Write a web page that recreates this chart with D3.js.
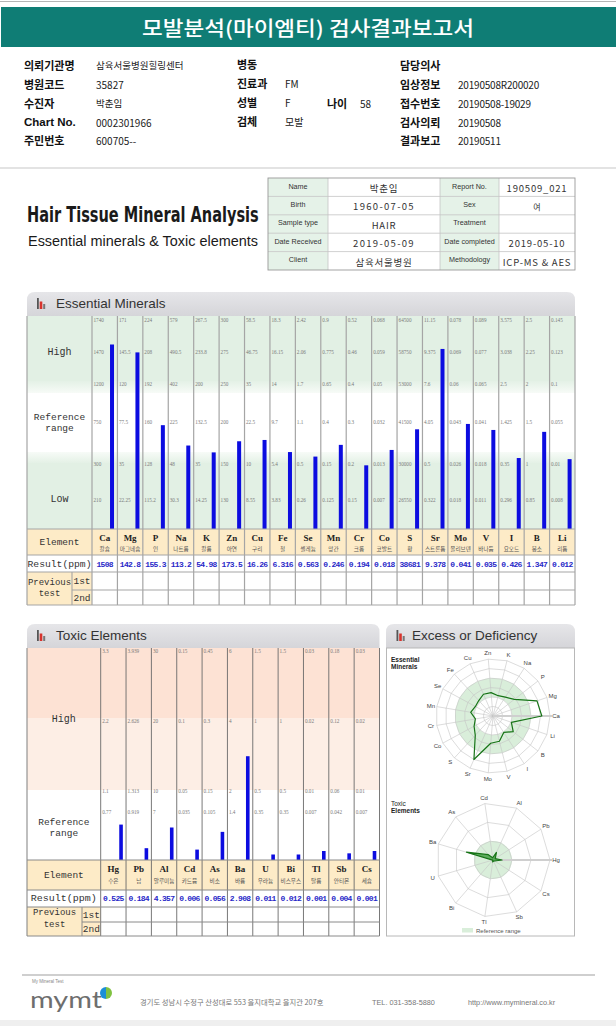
<!DOCTYPE html>
<html><head><meta charset="utf-8">
<script src="https://cdn.jsdelivr.net/npm/d3@7"></script>
<style>body{margin:0;background:#fff}svg{display:block}</style>
</head><body>
<svg id="c" width="616" height="1026"></svg>
<script>
// ---------------- DATA ----------------
const reportTitle = "모발분석(마이엠티) 검사결과보고서";
const hdrCol1Labels = ["의뢰기관명","병원코드","수진자","Chart No.","주민번호"];
const hdrCol1Values = ["삼육서울병원힐링센터","35827","박춘임","0002301966","600705--"];
const hdrCol2Labels = ["병동","진료과","성별","검체",""];
const hdrCol2Values = ["","FM","F","모발",""];
const hdrCol3Labels = ["담당의사","임상정보","접수번호","검사의뢰","결과보고"];
const hdrCol3Values = ["","20190508R200020","20190508-19029","20190508","20190511"];
const ageLabel = "나이", ageValue = "58";

const infoLabels1 = ["Name","Birth","Sample type","Date Received","Client"];
const infoValues1 = ["박춘임","1960-07-05","HAIR","2019-05-09","삼육서울병원"];
const infoLabels2 = ["Report No.","Sex","Treatment","Date completed","Methodology"];
const infoValues2 = ["190509_021","여","","2019-05-10","ICP-MS & AES"];

const essSymbols = ["Ca","Mg","P","Na","K","Zn","Cu","Fe","Se","Mn","Cr","Co","S","Sr","Mo","V","I","B","Li"];
const essKorean = ["칼슘","마그네슘","인","나트륨","칼륨","아연","구리","철","셀레늄","망간","크롬","코발트","황","스트론튬","몰리브덴","바나듐","요오드","붕소","리튬"];
const essResults = [1508,142.8,155.3,113.2,54.98,173.5,16.26,6.316,0.563,0.246,0.194,0.018,38681,9.378,0.041,0.035,0.426,1.347,0.012];
const essTop     = [1740,171,224,579,267.5,300,58.5,18.3,2.42,0.9,0.52,0.068,64500,11.15,0.078,0.089,3.575,2.5,0.145];
const essHighMid = [1470,145.5,208,490.5,233.8,275,46.75,16.15,2.06,0.775,0.46,0.059,58750,9.375,0.069,0.077,3.038,2.25,0.123];
const essRefHigh = [1200,120,192,402,200,250,35,14,1.7,0.65,0.4,0.05,53000,7.6,0.06,0.065,2.5,2,0.1];
const essRefMid  = [750,77.5,160,225,132.5,200,22.5,9.7,1.1,0.4,0.3,0.032,41500,4.05,0.043,0.041,1.425,1.5,0.055];
const essRefLow  = [300,35,128,48,35,150,10,5.4,0.5,0.15,0.2,0.013,30000,0.5,0.026,0.018,0.35,1,0.01];
const essLow     = [210,22.25,115.2,30.3,14.25,130,8.55,3.83,0.26,0.125,0.15,0.007,26550,0.322,0.018,0.011,0.296,0.85,0.008];

const toxSymbols = ["Hg","Pb","Al","Cd","As","Ba","U","Bi","Tl","Sb","Cs"];
const toxKorean = ["수은","납","알루미늄","카드뮴","비소","바륨","우라늄","비스무스","탈륨","안티몬","세슘"];
const toxResults = [0.525,0.184,4.357,0.006,0.056,2.908,0.011,0.012,0.001,0.004,0.001];
const toxTop = [3.3,3.939,30,0.15,0.45,6,1.5,1.5,0.03,0.18,0.03];
const toxMid = [2.2,2.626,20,0.1,0.3,4,1,1,0.02,0.12,0.02];
const toxRef = [1.1,1.313,10,0.05,0.15,2,0.5,0.5,0.01,0.06,0.01];
const toxLow = [0.77,0.919,7,0.035,0.105,1.4,0.35,0.35,0.007,0.042,0.007];

const footerAddress = "경기도 성남시 수정구 산성대로 553 을지대학교 을지관 207호";
const footerTel = "TEL. 031-358-5880";
const footerUrl = "http://www.mymineral.co.kr";

// ---------------- DRAW ----------------
const svg = d3.select("#c");
const KR = "'Noto Sans CJK KR', sans-serif";
const SANS = "'Liberation Sans', Arial, sans-serif";
const MONO = "'Liberation Mono', monospace";
const SERIF = "'Liberation Serif', serif";
svg.append("rect").attr("width",616).attr("height",1026).attr("fill","#fff");
const defs = svg.append("defs");
function vgrad(id, c1, c2){
  const lg = defs.append("linearGradient").attr("id",id).attr("x1",0).attr("y1",0).attr("x2",0).attr("y2",1);
  lg.append("stop").attr("offset","0%").attr("stop-color",c1);
  lg.append("stop").attr("offset","100%").attr("stop-color",c2);
}
vgrad("hdrG","#e6e6e9","#d5d5d9");
vgrad("gDown","#e4f1e6","#f7fbf7");
vgrad("gUp","#f7fbf7","#e4f1e6");

function txt(x,y,t,o={}){
  const e = svg.append("text").attr("x",x).attr("y",y).text(t)
    .attr("font-family",o.ff||KR).attr("font-size",o.fs||10)
    .attr("fill",o.fill||"#111").attr("text-anchor",o.anchor||"start")
    .attr("dominant-baseline",o.db||"central");
  if(o.fw) e.attr("font-weight",o.fw);
  if(o.ls) e.attr("letter-spacing",o.ls);
  if(o.tl) e.attr("textLength",o.tl).attr("lengthAdjust","spacingAndGlyphs");
  return e;
}
function fitTxt(x,y,t,w,o={}){
  const e = txt(0,0,t,o);
  const nw = e.node().getComputedTextLength();
  e.attr("transform",`translate(${x},${y}) scale(${w/nw},1)`);
  return e;
}
function line(x1,y1,x2,y2,stroke,w){
  return svg.append("line").attr("x1",x1).attr("y1",y1).attr("x2",x2).attr("y2",y2).attr("stroke",stroke).attr("stroke-width",w||1);
}

// Top header
line(0,1.5,616,1.5,"#b5b5b5",1);
svg.append("rect").attr("x",1).attr("y",7).attr("width",615).attr("height",40).attr("fill","#0f7d75");
txt(308,27.5,reportTitle,{fs:20,fill:"#fff",anchor:"middle",fw:500,tl:332});

const rowY = [65,84,103,122,140];
rowY.forEach((y,i)=>{
  const isLatin = hdrCol1Labels[i]==="Chart No.";
  txt(24,y,hdrCol1Labels[i],{fs:isLatin?11.5:11,fw:"bold",ff:isLatin?SANS:KR});
  txt(96,y,hdrCol1Values[i],{fs:/^[0-9\-]+$/.test(hdrCol1Values[i])?10:9.5,fill:"#222"});
  if(hdrCol2Labels[i]) txt(237,y-1,hdrCol2Labels[i],{fs:11,fw:"bold"});
  if(hdrCol2Values[i]) txt(285,y-1,hdrCol2Values[i],{fs:10,fill:"#222"});
  txt(400,y,hdrCol3Labels[i],{fs:11,fw:"bold"});
  if(hdrCol3Values[i]) txt(458,y,hdrCol3Values[i],{fs:10,fill:"#222",ls:-0.2});
});
txt(327,103,ageLabel,{fs:11,fw:"bold"});
txt(360,103,ageValue,{fs:10,fill:"#222"});

line(0,168,616,168,"#c8c8c8",1.2);

// Info table
const tX = [268,328,440,499,575], tY0 = 178, tRH = 18.4;
infoLabels1.forEach((l,i)=>{
  const y = tY0+i*tRH;
  svg.append("rect").attr("x",tX[0]).attr("y",y).attr("width",tX[1]-tX[0]).attr("height",tRH).attr("fill","#e5f2e8");
  svg.append("rect").attr("x",tX[2]).attr("y",y).attr("width",tX[3]-tX[2]).attr("height",tRH).attr("fill","#e5f2e8");
  txt((tX[0]+tX[1])/2,y+8,l,{ff:SANS,fs:7.2,fill:"#333",anchor:"middle"});
  txt((tX[2]+tX[3])/2,y+8,infoLabels2[i],{ff:SANS,fs:7.2,fill:"#333",anchor:"middle"});
  txt((tX[1]+tX[2])/2,y+10,infoValues1[i],{fs:9.5,fill:"#333",anchor:"middle",ls:/[0-9]/.test(infoValues1[i])?1.3:0.8});
  if(infoValues2[i]) txt((tX[3]+tX[4])/2,y+10,infoValues2[i],{fs:i===1?8:9.5,fill:"#333",anchor:"middle",ls:/[0-9A-Z]/.test(infoValues2[i])?0.8:0});
});
for(let i=1;i<5;i++) line(tX[0],tY0+i*tRH,tX[4],tY0+i*tRH,"#c4c4c4",0.8);
[1,2,3].forEach(k=>line(tX[k],tY0,tX[k],tY0+5*tRH,"#c4c4c4",0.8));
svg.append("rect").attr("x",tX[0]).attr("y",tY0).attr("width",tX[4]-tX[0]).attr("height",5*tRH).attr("fill","none").attr("stroke","#999").attr("stroke-width",0.9);

// Big titles
fitTxt(27,222,"Hair Tissue Mineral Analysis",232,{ff:"'Liberation Sans Narrow','DejaVu Sans Condensed',sans-serif",fs:22,fw:"bold",db:"auto",fill:"#1a1a1a"});
fitTxt(28,246,"Essential minerals & Toxic elements",230,{ff:SANS,fs:15,db:"auto",fill:"#1a1a1a"});

// Panel header helper
function panelHeader(x0,x1,y0,y1,title,iconDx,textDx){
  const r=8;
  svg.append("path").attr("d",`M${x0},${y1}V${y0+r}Q${x0},${y0} ${x0+r},${y0}H${x1-r}Q${x1},${y0} ${x1},${y0+r}V${y1}Z`)
    .attr("fill","url(#hdrG)");
  const bx = x0+iconDx, by = y0+17;
  svg.append("rect").attr("x",bx).attr("y",by-11).attr("width",1.8).attr("height",11).attr("fill","#555");
  svg.append("rect").attr("x",bx+2.7).attr("y",by-7.5).attr("width",2.6).attr("height",7.5).attr("fill","#d8332c");
  svg.append("rect").attr("x",bx+6.2).attr("y",by-5).attr("width",2).attr("height",5).attr("fill","#777");
  txt(x0+textDx,y0+16,title,{ff:SANS,fs:13.5,fill:"#333",db:"auto"});
}

// ---------------- Essential Minerals ----------------
const E = {l:27,lab:92,r:575,top:316,el:529,res:555,p1:572,p2:590,bot:605,sub:72};
panelHeader(27,575,292,316,"Essential Minerals",10,29);
svg.append("rect").attr("x",E.l).attr("y",316).attr("width",E.r-E.l).attr("height",65).attr("fill","#e2f0e4");
svg.append("rect").attr("x",E.l).attr("y",381).attr("width",E.r-E.l).attr("height",12).attr("fill","url(#gDown)");
svg.append("rect").attr("x",E.l).attr("y",452).attr("width",E.r-E.l).attr("height",11).attr("fill","url(#gUp)");
svg.append("rect").attr("x",E.l).attr("y",463).attr("width",E.r-E.l).attr("height",E.el-463).attr("fill","#e2f0e4");
svg.append("rect").attr("x",E.l).attr("y",E.el).attr("width",E.r-E.l).attr("height",E.res-E.el).attr("fill","#fdebc7");
svg.append("rect").attr("x",E.l).attr("y",E.p1).attr("width",E.lab-E.l).attr("height",E.bot-E.p1).attr("fill","#fdebc7");

const ex = d3.scaleBand().domain(essSymbols).range([E.lab,E.r]);
const ebw = ex.bandwidth();
const essKnots = [497,461,419,381,349,317];
const essScale = i => d3.scaleLinear()
  .domain([essLow[i],essRefLow[i],essRefMid[i],essRefHigh[i],essHighMid[i],essTop[i]])
  .range(essKnots).clamp(true);

essSymbols.forEach((s,i)=>{
  const x0 = ex(s), sc = essScale(i);
  const ticks = [essLow[i],essRefLow[i],essRefMid[i],essRefHigh[i],essHighMid[i],essTop[i]];
  ticks.forEach(v=>txt(x0+1.5,sc(v)+3,String(v),{ff:SERIF,fs:5.2,fill:"#7a7a7a"}));
  const y = sc(essResults[i]);
  svg.append("rect").attr("x",x0+ebw-7.4).attr("y",y).attr("width",4).attr("height",E.el-y).attr("fill","#0c0ce0");
  txt(x0+ebw/2,537.5,s,{ff:SERIF,fs:9,fw:"bold",anchor:"middle",fill:"#222"});
  txt(x0+ebw/2,549,essKorean[i],{fs:5.6,anchor:"middle",fill:"#555"});
  txt(x0+ebw/2,564,String(essResults[i]),{ff:MONO,fs:8,fw:"bold",anchor:"middle",fill:"#2828c8",ls:-0.7});
});
d3.range(essSymbols.length+1).forEach(k=>{
  const x = E.lab+k*ebw;
  line(x,E.top,x,E.bot,"#a5a5a5",1.2);
});
line(E.l,E.top,E.l,E.bot,"#a5a5a5",1.2);
[E.el,E.res,E.p1,E.bot].forEach(y=>line(E.l,y,E.r,y,"#a5a5a5",1.1));
line(E.sub,E.p2,E.r,E.p2,"#a5a5a5",1.1);
line(E.sub,E.p1,E.sub,E.bot,"#a5a5a5",1.1);
const ecx = (E.l+E.lab)/2;
txt(ecx,352,"High",{ff:MONO,fs:10,anchor:"middle",fill:"#333"});
txt(ecx,417.5,"Reference",{ff:MONO,fs:9.5,anchor:"middle",fill:"#333"});
txt(ecx,428.5,"range",{ff:MONO,fs:9.5,anchor:"middle",fill:"#333"});
txt(ecx,499,"Low",{ff:MONO,fs:10,anchor:"middle",fill:"#333"});
txt(ecx,542,"Element",{ff:MONO,fs:9.5,anchor:"middle",fill:"#333"});
txt(ecx,564,"Result(ppm)",{ff:MONO,fs:9.5,anchor:"middle",fill:"#333",tl:64});
txt((E.l+E.sub)/2,583,"Previous",{ff:MONO,fs:9,anchor:"middle",fill:"#333"});
txt((E.l+E.sub)/2,594,"test",{ff:MONO,fs:9,anchor:"middle",fill:"#333"});
txt((E.sub+E.lab)/2,581.5,"1st",{ff:MONO,fs:9.5,anchor:"middle",fill:"#333"});
txt((E.sub+E.lab)/2,598,"2nd",{ff:MONO,fs:9.5,anchor:"middle",fill:"#333"});

// ---------------- Toxic Elements ----------------
const T = {l:27,lab:100.7,r:379.5,top:648,el:860,res:890,p1:907,p2:922,bot:936,sub:82};
panelHeader(27,379.5,624,648,"Toxic Elements",10,29);
svg.append("rect").attr("x",T.l).attr("y",648).attr("width",T.r-T.l).attr("height",70).attr("fill","#fde2d4");
svg.append("rect").attr("x",T.l).attr("y",718).attr("width",T.r-T.l).attr("height",72).attr("fill","#fdeee5");
svg.append("rect").attr("x",T.l).attr("y",T.el).attr("width",T.r-T.l).attr("height",T.res-T.el).attr("fill","#fdebc7");
svg.append("rect").attr("x",T.l).attr("y",T.p1).attr("width",T.lab-T.l).attr("height",T.bot-T.p1).attr("fill","#fdebc7");
const tx = d3.scaleBand().domain(toxSymbols).range([T.lab,T.r]);
const tbw = tx.bandwidth();
toxSymbols.forEach((s,i)=>{
  const x0 = tx(s);
  const sc = d3.scaleLinear().domain([0,toxTop[i]]).range([858,648]);
  [toxTop[i],toxMid[i],toxRef[i],toxLow[i]].forEach(v=>txt(x0+1.5,sc(v)+3,String(v),{ff:SERIF,fs:5.2,fill:"#7a7a7a"}));
  const y = sc(toxResults[i]);
  const h = Math.max(858-y,3.5);
  svg.append("rect").attr("x",x0+tbw-6.8).attr("y",858-h).attr("width",3.6).attr("height",h+2).attr("fill","#0c0ce0");
  txt(x0+tbw/2,868.5,s,{ff:SERIF,fs:9,fw:"bold",anchor:"middle",fill:"#222"});
  txt(x0+tbw/2,880.5,toxKorean[i],{fs:5.6,anchor:"middle",fill:"#555"});
  txt(x0+tbw/2,898.5,String(toxResults[i]),{ff:MONO,fs:8,fw:"bold",anchor:"middle",fill:"#2828c8",ls:-0.7});
});
d3.range(toxSymbols.length+1).forEach(k=>{
  const x = T.lab+k*tbw;
  line(x,T.top,x,T.bot,"#6a6a6a",0.9);
});
line(T.l,T.top,T.l,T.bot,"#8a8a8a",1.1);
[T.el,T.res,T.p1,T.bot].forEach(y=>line(T.l,y,T.r,y,"#8a8a8a",1));
line(T.sub,T.p2,T.r,T.p2,"#8a8a8a",1);
line(T.sub,T.p1,T.sub,T.bot,"#8a8a8a",1);
const tcx = (T.l+T.lab)/2;
txt(tcx,719,"High",{ff:MONO,fs:10,anchor:"middle",fill:"#333"});
txt(tcx,822,"Reference",{ff:MONO,fs:9.5,anchor:"middle",fill:"#333"});
txt(tcx,833,"range",{ff:MONO,fs:9.5,anchor:"middle",fill:"#333"});
txt(tcx,875,"Element",{ff:MONO,fs:9.5,anchor:"middle",fill:"#333"});
txt(tcx,898.5,"Result(ppm)",{ff:MONO,fs:9.5,anchor:"middle",fill:"#333",tl:66});
txt((T.l+T.sub)/2,913,"Previous",{ff:MONO,fs:9,anchor:"middle",fill:"#333"});
txt((T.l+T.sub)/2,925,"test",{ff:MONO,fs:9,anchor:"middle",fill:"#333"});
txt((T.sub+T.lab)/2,915,"1st",{ff:MONO,fs:9.5,anchor:"middle",fill:"#333"});
txt((T.sub+T.lab)/2,929,"2nd",{ff:MONO,fs:9.5,anchor:"middle",fill:"#333"});

// ---------------- Excess or Deficiency ----------------
panelHeader(386,575,624,648,"Excess or Deficiency",10.5,26);
svg.append("rect").attr("x",386.5).attr("y",648).attr("width",188).attr("height",288).attr("fill","#fff").attr("stroke","#b8b8b8").attr("stroke-width",1);
txt(391,659,"Essential",{ff:SANS,fs:6.5,fw:"bold",fill:"#222"});
txt(391,666.5,"Minerals",{ff:SANS,fs:6.5,fw:"bold",fill:"#222"});
txt(391,803,"Toxic",{ff:SANS,fs:6.5,fill:"#222"});
txt(391,810.5,"Elements",{ff:SANS,fs:6.5,fw:"bold",fill:"#222"});

function radar(cx,cy,n,rings,greenIn,greenOut,labels,radii,fill){
  const ang = i => i*2*Math.PI/n;
  const pt = (i,r) => [cx+r*Math.cos(ang(i)), cy-r*Math.sin(ang(i))];
  const R = rings[rings.length-1];
  const g = svg.append("g");
  const arc = d3.arc().innerRadius(greenIn).outerRadius(greenOut).startAngle(0).endAngle(2*Math.PI);
  g.append("path").attr("d",arc()).attr("transform",`translate(${cx},${cy})`).attr("fill","#d9eeda");
  rings.forEach(r=>{
    g.append("polygon").attr("points",d3.range(n).map(i=>pt(i,r).join(",")).join(" "))
      .attr("fill","none").attr("stroke","#c4c4c4").attr("stroke-width",0.6);
  });
  d3.range(n).forEach(i=>{
    const p = pt(i,R);
    g.append("line").attr("x1",cx).attr("y1",cy).attr("x2",p[0]).attr("y2",p[1]).attr("stroke","#c4c4c4").attr("stroke-width",0.6);
  });
  g.append("line").attr("x1",cx).attr("y1",cy).attr("x2",cx+R+2).attr("y2",cy).attr("stroke","#cfcfcf").attr("stroke-width",1.8);
  g.append("polygon").attr("points",radii.map((r,i)=>pt(i,r).join(",")).join(" "))
    .attr("fill",fill||"none").attr("fill-opacity",fill?0.8:0).attr("stroke","#177417").attr("stroke-width",1.2).attr("stroke-linejoin","round");
  labels.forEach((l,i)=>{
    const p = pt(i,R+6);
    txt(p[0],p[1],l,{ff:SANS,fs:6,anchor:"middle",fill:"#444"});
  });
}
const essRing = [9.5,19,28.5,38,47.5,57];
const essRadii = essSymbols.map((s,i)=>d3.scaleLinear()
  .domain([0,essLow[i],essRefLow[i],essRefMid[i],essRefHigh[i],essHighMid[i],essTop[i]])
  .range([0].concat(essRing)).clamp(true)(essResults[i]));
radar(493,716,essSymbols.length,essRing,19,38,essSymbols,essRadii,null);

const toxRing = [19,38,57];
const toxRadii = toxSymbols.map((s,i)=>d3.scaleLinear().domain([0,toxTop[i]]).range([0,57]).clamp(true)(toxResults[i]));
radar(493,860,toxSymbols.length,toxRing,0,19,toxSymbols,toxRadii,"#3f9c3f");
svg.append("rect").attr("x",462).attr("y",928).attr("width",11).attr("height",4.5).attr("fill","#d9eeda");
txt(476,930.5,"Reference range",{ff:SANS,fs:6,fill:"#555"});

// ---------------- Footer ----------------
line(22,975,595,975,"#cfcfcf",2);
txt(32,981.5,"My Mineral Test",{ff:SANS,fs:4.5,fill:"#888"});
txt(30,1008,"mymt",{ff:"Lato, sans-serif",fs:23,fill:"#6e6e6e",db:"auto",tl:72});
const lg = defs.append("linearGradient").attr("id","logoG").attr("x1",0).attr("x2",1);
lg.append("stop").attr("offset","50%").attr("stop-color","#1b8fd6");
lg.append("stop").attr("offset","50%").attr("stop-color","#80c241");
svg.append("circle").attr("cx",106).attr("cy",993).attr("r",6).attr("fill","url(#logoG)");
txt(140,1002,footerAddress,{fs:7.3,fill:"#777"});
txt(372,1002,footerTel,{ff:SANS,fs:7.3,fill:"#777"});
txt(468,1002,footerUrl,{ff:SANS,fs:7.3,fill:"#777"});
svg.append("rect").attr("x",0).attr("y",1020).attr("width",616).attr("height",6).attr("fill","#efefef");
</script>
</body></html>
